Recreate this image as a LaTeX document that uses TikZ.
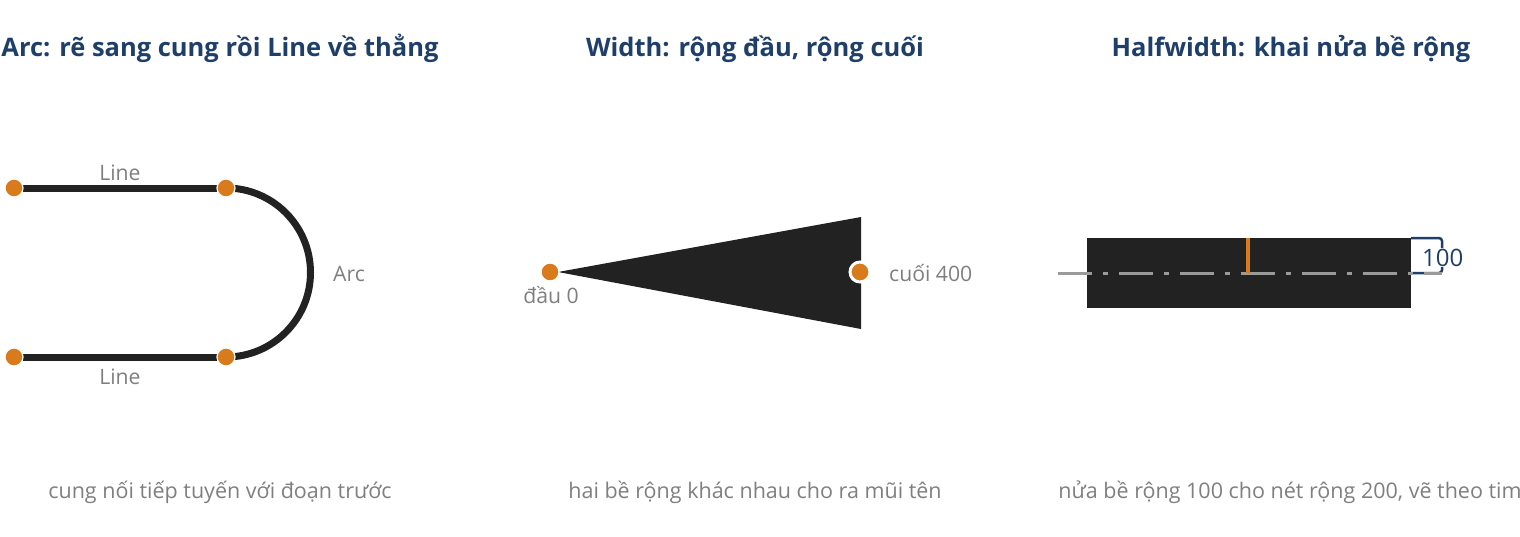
\documentclass[tikz,border=0pt]{standalone}
\usepackage{fontspec}
\setmainfont{Open Sans}
\definecolor{titleblue}{HTML}{1F3F6B}
\definecolor{labgray}{HTML}{7F7F7F}
\definecolor{ink}{HTML}{222222}
\definecolor{dotor}{HTML}{D97A1C}
\definecolor{cgray}{HTML}{9A9A9A}
\begin{document}
\begin{tikzpicture}[x=1pt,y=-1pt,
  titletxt/.style={anchor=base,text=titleblue,font=\fontsize{25.5}{30}\selectfont\bfseries,inner sep=0pt},
  labtxt/.style={anchor=base,text=labgray,font=\fontsize{21.2}{25}\selectfont,inner sep=0pt},
  captxt/.style={anchor=base,text=labgray,font=\fontsize{21.5}{25}\selectfont,inner sep=0pt},
  dotnode/.style={circle,fill=dotor,draw=white,line width=1.2pt,minimum size=18pt,inner sep=0pt},
  dotring/.style={circle,fill=dotor,draw=white,line width=3pt,minimum size=20pt,inner sep=0pt},
  segline/.style={draw=ink,line width=7pt}]
\useasboundingbox (0,0) rectangle (1520,536);
% titles
\node[titletxt] (t1) at (220,56) {Arc: rẽ sang cung rồi Line về thẳng};
\node[titletxt] (t2) at (755,56) {Width: rộng đầu, rộng cuối};
\node[titletxt] (t3) at (1291,56) {Halfwidth: khai nửa bề rộng};
% panel 1
\coordinate (a1) at (14,188);
\coordinate (a2) at (226,188);
\coordinate (a3) at (14,357);
\coordinate (a4) at (226,357);
\draw[segline] (a1) -- (a2);
\draw[segline] (a3) -- (a4);
\draw[segline] (a2) arc[start angle=-90,end angle=90,radius=84.5];
\node[dotnode] (d1) at (a1) {};
\node[dotnode] (d2) at (a2) {};
\node[dotnode] (d3) at (a3) {};
\node[dotnode] (d4) at (a4) {};
\node[labtxt] (l1) at (120,180) {Line};
\node[labtxt] (l2) at (120,384) {Line};
\node[labtxt] (l3) at (349,281) {Arc};
\node[captxt] (c1) at (220,498) {cung nối tiếp tuyến với đoạn trước};
% panel 2
\coordinate (w0) at (550,272);
\coordinate (w1) at (860,272);
\fill[ink] (558,272) -- (861,217) -- (861,329) -- cycle;
\node[dotnode] (e0) at (w0) {};
\node[dotring] (e1) at (w1) {};
\node[labtxt] (l4) at (551,303) {đầu 0};
\node[labtxt,anchor=base west] (l5) at (889,281) {cuối 400};
\node[captxt] (c2) at (755,498) {hai bề rộng khác nhau cho ra mũi tên};
% panel 3
\node[fill=ink,draw=none,minimum width=324pt,minimum height=70pt,inner sep=0pt,anchor=north west] (rect) at (1087,238) {};
\coordinate (b0) at (1411,238);
\coordinate (b1) at (1442,238);
\coordinate (b2) at (1442,273);
\coordinate (b3) at (1411,273);
\draw[titleblue,line width=2.5pt,rounded corners=3pt] (b0) -- (b1) -- (b2) -- (b3);
\coordinate (m0) at (1058,273);
\coordinate (m1) at (1442,273);
\draw[cgray,line width=3pt,dash pattern=on 34pt off 11pt on 5pt off 11pt] (m0) -- (m1);
\coordinate (o0) at (1248,238);
\coordinate (o1) at (1248,273);
\draw[dotor,line width=3.5pt] (o0) -- (o1);
\node[anchor=base west,fill=white,inner sep=1pt,text=titleblue,font=\fontsize{24}{28}\selectfont] (hw) at (1421,266) {100};
\node[captxt] (c3) at (1290,498) {nửa bề rộng 100 cho nét rộng 200, vẽ theo tim};
\end{tikzpicture}
\end{document}
